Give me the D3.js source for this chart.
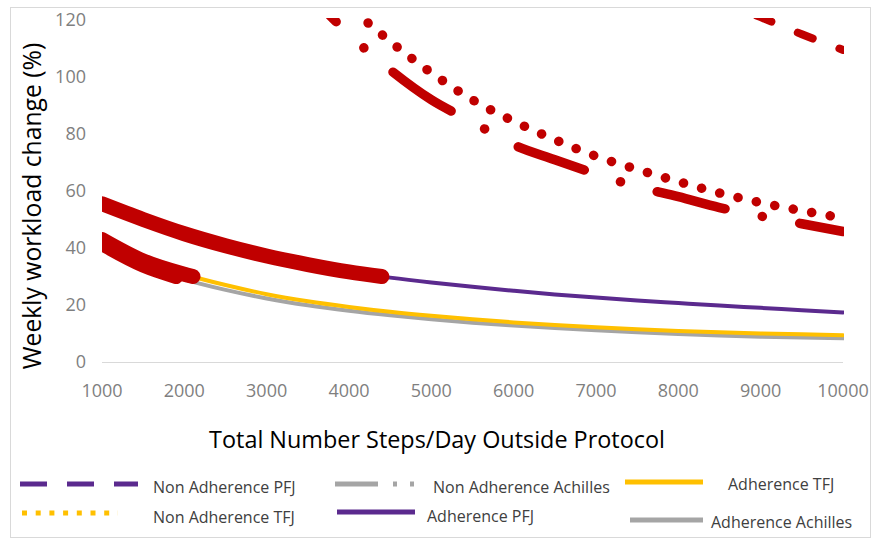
<!DOCTYPE html>
<html>
<head>
<meta charset="utf-8">
<script src="https://cdn.jsdelivr.net/npm/d3@7"></script>
<style>
  body { margin: 0; background: #fff; }
  svg { display: block; font-family: "Open Sans", sans-serif; }
</style>
</head>
<body>
<div id="chart"></div>
<script>
// weekly workload change vs total steps/day, adherence vs non adherence
// segments above the 30% threshold are drawn in red

const steps = [1000, 1500, 2000, 2500, 3000, 3500, 4000, 4500, 5000, 5500,
               6000, 6500, 7000, 7500, 8000, 8500, 9000, 9500, 10000];

const adherencePFJ      = [55.5, 50, 45, 40.8, 37.2, 34.2, 31.6, 29.6, 27.9, 26.4,
                           25, 23.7, 22.6, 21.6, 20.7, 19.8, 19, 18.2, 17.4];
const adherenceTFJ      = [43, 35.5, 30.8, 27, 23.8, 21.3, 19.3, 17.6, 16.2, 15,
                           13.9, 13, 12.2, 11.5, 10.9, 10.4, 10, 9.7, 9.4];
const adherenceAchilles = [41.5, 34, 29, 25.3, 22.3, 19.9, 18, 16.4, 15, 13.8,
                           12.8, 11.9, 11.1, 10.4, 9.8, 9.3, 8.9, 8.6, 8.3];

const nonAdherencePFJ      = [355, 320, 288, 263, 242, 222, 205, 192, 181, 171,
                              162, 153, 146, 139, 133, 127, 121, 115, 109.5];
const nonAdherenceTFJ      = [340, 270, 220, 185, 160, 140, 125, 112.5, 101.5, 92,
                              84.5, 78, 72.2, 67.6, 63.3, 59.3, 55.9, 53.1, 50.5];
const nonAdherenceAchilles = [330, 250, 200, 170, 148, 130, 115, 102.5, 92, 84.2,
                              76.2, 71, 66, 61.5, 58, 54.2, 51.2, 48.5, 45.8];

const xTicks = [1000, 2000, 3000, 4000, 5000, 6000, 7000, 8000, 9000, 10000];
const yTicks = [0, 20, 40, 60, 80, 100, 120];
const threshold = 30;

const width = 872, height = 538;
const red = "#C00000";

const svg = d3.select("#chart").append("svg")
    .attr("width", width)
    .attr("height", height);

// chart frame
svg.append("rect")
    .attr("x", 10.5).attr("y", 7.5)
    .attr("width", 860).attr("height", 530)
    .attr("fill", "#fff")
    .attr("stroke", "#d9d9d9");

const x = d3.scaleLinear().domain([1000, 10000]).range([102, 843]);
const y = d3.scaleLinear().domain([0, 120]).range([362, 20]);

// y tick labels
svg.append("g").selectAll("text")
    .data(yTicks)
    .join("text")
    .attr("x", 86)
    .attr("y", d => y(d))
    .attr("dy", "0.35em")
    .attr("text-anchor", "end")
    .attr("fill", "#7f7f7f")
    .attr("font-size", 18)
    .text(d => d);

// x tick labels
svg.append("g").selectAll("text")
    .data(xTicks)
    .join("text")
    .attr("x", d => x(d))
    .attr("y", 391)
    .attr("dy", "0.35em")
    .attr("text-anchor", "middle")
    .attr("fill", "#7f7f7f")
    .attr("font-size", 18)
    .text(d => d);

// baseline
svg.append("line")
    .attr("x1", x(1000)).attr("x2", x(10000))
    .attr("y1", y(0) + 0.5).attr("y2", y(0) + 0.5)
    .attr("stroke", "#d9d9d9");

// axis titles
svg.append("text")
    .attr("transform", `translate(32,${206}) rotate(-90)`)
    .attr("dy", "0.35em")
    .attr("text-anchor", "middle")
    .attr("font-size", 24.7)
    .attr("fill", "#000")
    .text("Weekly workload change (%)");

svg.append("text")
    .attr("x", 437)
    .attr("y", 440)
    .attr("dy", "0.35em")
    .attr("text-anchor", "middle")
    .attr("font-size", 23.4)
    .attr("fill", "#000")
    .text("Total Number Steps/Day Outside Protocol");

// plot clip
svg.append("clipPath").attr("id", "plot-clip")
    .append("rect")
    .attr("x", x(1000)).attr("y", y(120) - 2)
    .attr("width", x(10000) - x(1000) + 1)
    .attr("height", y(0) - y(120) + 2);

const plot = svg.append("g").attr("clip-path", "url(#plot-clip)");

const line = d3.line()
    .x(d => x(d[0]))
    .y(d => y(d[1]))
    .curve(d3.curveMonotoneX);

const pairs = vals => steps.map((s, i) => [s, vals[i]]);

// points at or above threshold, ending at the interpolated crossing
function aboveThreshold(vals) {
    const pts = [];
    for (let i = 0; i < steps.length; i++) {
        if (vals[i] >= threshold) {
            pts.push([steps[i], vals[i]]);
        } else {
            if (i > 0 && vals[i - 1] > threshold) {
                const t = (vals[i - 1] - threshold) / (vals[i - 1] - vals[i]);
                pts.push([steps[i - 1] + t * (steps[i] - steps[i - 1]), threshold]);
            }
            break;
        }
    }
    return pts;
}

// path length at a given x, for phasing the dash patterns
function lengthAtX(node, px) {
    let lo = 0, hi = node.getTotalLength();
    for (let k = 0; k < 40; k++) {
        const mid = (lo + hi) / 2;
        if (node.getPointAtLength(mid).x < px) lo = mid; else hi = mid;
    }
    return lo;
}

// adherence series (thin), gray under yellow
const adherence = [
    { values: adherenceAchilles, color: "#A5A5A5" },
    { values: adherenceTFJ, color: "#FFC000" },
    { values: adherencePFJ, color: "#5B2A8E" }
];

adherence.forEach(s => {
    plot.append("path")
        .datum(pairs(s.values))
        .attr("fill", "none")
        .attr("stroke", s.color)
        .attr("stroke-width", 4)
        .attr("stroke-linecap", "round")
        .attr("d", line);
});

adherence.forEach(s => {
    plot.append("path")
        .datum(aboveThreshold(s.values))
        .attr("fill", "none")
        .attr("stroke", red)
        .attr("stroke-width", 15)
        .attr("stroke-linecap", "round")
        .attr("d", line);
});

// non adherence series, all above threshold, drawn red with their patterns
const nonAdherence = [
    { values: nonAdherencePFJ, dash: [16, 28.6], width: 8, phaseStep: 9450 },
    { values: nonAdherenceTFJ, dash: [0.1, 18.7], width: 9.5, phaseStep: 4583 },
    { values: nonAdherenceAchilles, dash: [70, 38, 0.1, 38], width: 9.5, phaseStep: 4534 }
];

nonAdherence.forEach(s => {
    const p = plot.append("path")
        .datum(pairs(s.values))
        .attr("fill", "none")
        .attr("stroke", red)
        .attr("stroke-width", s.width)
        .attr("stroke-linecap", "round")
        .attr("stroke-dasharray", s.dash.join(","))
        .attr("d", line);
    const period = d3.sum(s.dash);
    const L = lengthAtX(p.node(), x(s.phaseStep));
    p.attr("stroke-dashoffset", period - (L % period));
});

// legend
const legendItems = [
    { label: "Non Adherence PFJ", color: "#5B2A8E", dash: "27,20", x1: 20, x2: 138, ly: 484, tx: 153, ty: 487 },
    { label: "Non Adherence TFJ", color: "#FFC000", dash: "5,8.7", x1: 22, x2: 118, ly: 513, tx: 153, ty: 517 },
    { label: "Non Adherence Achilles", color: "#A5A5A5", dash: "43,15,4,13,4,100", x1: 335, x2: 415, ly: 484, tx: 433, ty: 487 },
    { label: "Adherence PFJ", color: "#5B2A8E", dash: null, x1: 337, x2: 415, ly: 512, tx: 427, ty: 516 },
    { label: "Adherence TFJ", color: "#FFC000", dash: null, x1: 625, x2: 703, ly: 482, tx: 728, ty: 484 },
    { label: "Adherence Achilles", color: "#A5A5A5", dash: null, x1: 630, x2: 703, ly: 520, tx: 711, ty: 522 }
];

const legend = svg.append("g");
legend.selectAll("line")
    .data(legendItems)
    .join("line")
    .attr("x1", d => d.x1).attr("x2", d => d.x2)
    .attr("y1", d => d.ly).attr("y2", d => d.ly)
    .attr("stroke", d => d.color)
    .attr("stroke-width", 5)
    .attr("stroke-dasharray", d => d.dash);

legend.selectAll("text")
    .data(legendItems)
    .join("text")
    .attr("x", d => d.tx)
    .attr("y", d => d.ty)
    .attr("dy", "0.35em")
    .attr("font-size", 16)
    .attr("fill", "#404040")
    .text(d => d.label);
</script>
</body>
</html>
